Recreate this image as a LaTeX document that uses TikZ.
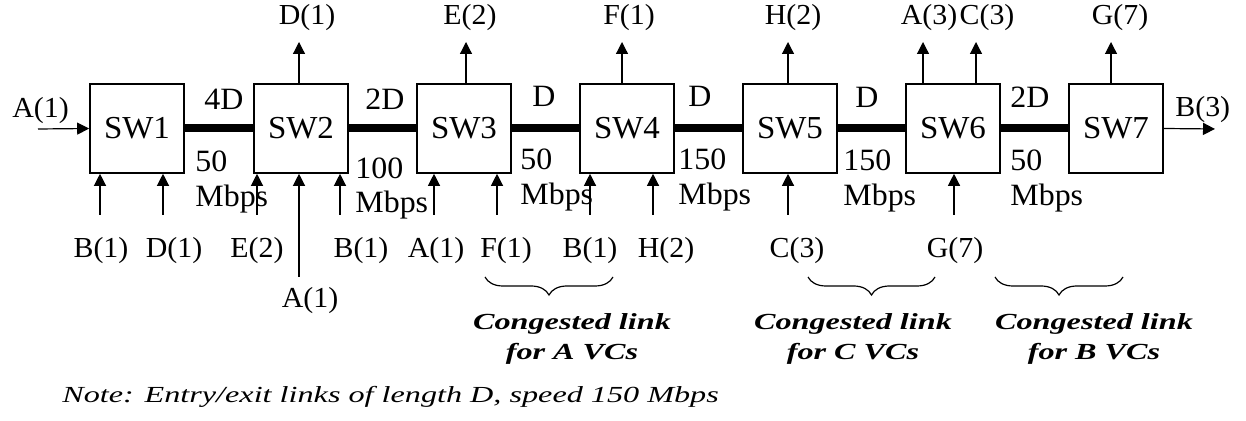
\documentclass[tikz,border=0pt]{standalone}
\usepackage{fontspec}
\setmainfont{Liberation Serif}[FakeStretch=1.03]
\newfontfamily\wideit{Liberation Serif}[FakeStretch=1.4]
\usetikzlibrary{arrows.meta,decorations.pathreplacing}
\begin{document}
\begin{tikzpicture}[x=0.5pt,y=-0.5pt,
  swbox/.style={draw, line width=0.8pt, minimum width=47pt, minimum height=44.5pt, inner sep=0pt, font=\fontsize{16}{19}\selectfont},
  lbl/.style={inner sep=0pt, anchor=base, font=\fontsize{14.5}{17}\selectfont},
  linklbl/.style={inner sep=0pt, anchor=base west, font=\fontsize{15.5}{18}\selectfont},
  flow/.style={line width=0.6pt, -{Triangle[length=6pt,width=6pt]}},
  trunk/.style={line width=4pt},
  cong/.style={inner sep=0pt, align=center, anchor=north, font=\wideit\bfseries\itshape\fontsize{11.5}{15}\selectfont},
  notestyle/.style={inner sep=0pt, anchor=base west, font=\wideit\itshape\fontsize{11.5}{14}\selectfont},
  brc/.style={decorate, decoration={brace, mirror, amplitude=9pt}, line width=0.6pt}]
\useasboundingbox (0,0) rectangle (1246,421);

% switches
\foreach \i/\x in {1/137,2/301,3/464,4/627,5/790,6/953,7/1116}
  \node[swbox] (sw\i) at (\x,128.5) {SW\i};

% trunk links
\draw[trunk] (sw1.east) -- (sw2.west);
\draw[trunk] (sw2.east) -- (sw3.west);
\draw[trunk] (sw3.east) -- (sw4.west);
\draw[trunk] (sw4.east) -- (sw5.west);
\draw[trunk] (sw5.east) -- (sw6.west);
\draw[trunk] (sw6.east) -- (sw7.west);

% link labels
\node[linklbl] (l1a) at (204,110) {4D};
\node[linklbl] (l1b) at (195,172) {50};
\node[linklbl] (l1c) at (195,207) {Mbps};
\node[linklbl] (l2a) at (365,110) {2D};
\node[linklbl] (l2b) at (355,179) {100};
\node[linklbl] (l2c) at (355,213) {Mbps};
\node[linklbl] (l3a) at (532,107) {D};
\node[linklbl] (l3b) at (520,170) {50};
\node[linklbl] (l3c) at (520,205) {Mbps};
\node[linklbl] (l4a) at (688,107) {D};
\node[linklbl] (l4b) at (678,170) {150};
\node[linklbl] (l4c) at (678,205) {Mbps};
\node[linklbl] (l5a) at (855,108) {D};
\node[linklbl] (l5b) at (843,171) {150};
\node[linklbl] (l5c) at (843,206) {Mbps};
\node[linklbl] (l6a) at (1010,108) {2D};
\node[linklbl] (l6b) at (1010,171) {50};
\node[linklbl] (l6c) at (1010,206) {Mbps};

% entry / exit on the trunk
\coordinate (ain) at (38,129);
\draw[flow] (ain) -- (sw1.west);
\node[inner sep=0pt, anchor=base west, font=\fontsize{14.5}{17}\selectfont] (la) at (12,118) {A(1)};
\coordinate (bout) at (1215,129);
\draw[flow] (sw7.east) -- (bout);
\node[inner sep=0pt, anchor=base west, font=\fontsize{14.5}{17}\selectfont] (lb) at (1175,117) {B(3)};

% exits on top
\coordinate (tD) at (299,42);
\coordinate (tE) at (466,42);
\coordinate (tF) at (622,42);
\coordinate (tH) at (788,42);
\coordinate (tA) at (923,42);
\coordinate (tC) at (976,42);
\coordinate (tG) at (1111,42);
\draw[flow] (sw2.north -| tD) -- (tD);
\draw[flow] (sw3.north -| tE) -- (tE);
\draw[flow] (sw4.north -| tF) -- (tF);
\draw[flow] (sw5.north -| tH) -- (tH);
\draw[flow] (sw6.north -| tA) -- (tA);
\draw[flow] (sw6.north -| tC) -- (tC);
\draw[flow] (sw7.north -| tG) -- (tG);
\node[lbl] (oD) at (307,25) {D(1)};
\node[lbl] (oE) at (470,25) {E(2)};
\node[lbl] (oF) at (629,25) {F(1)};
\node[lbl] (oH) at (793,25) {H(2)};
\node[lbl] (oA) at (929,25) {A(3)};
\node[lbl] (oC) at (987,25) {C(3)};
\node[lbl] (oG) at (1120,25) {G(7)};

% entries from below
\coordinate (b1a) at (100,215);
\coordinate (b1b) at (163,215);
\coordinate (b2a) at (257,215);
\coordinate (b2b) at (299,277);
\coordinate (b2c) at (340,215);
\coordinate (b3a) at (434,215);
\coordinate (b3b) at (497,215);
\coordinate (b4a) at (590,215);
\coordinate (b4b) at (653,215);
\coordinate (b5) at (788,215);
\coordinate (b6) at (954,215);
\draw[flow] (b1a) -- (b1a |- sw1.south);
\draw[flow] (b1b) -- (b1b |- sw1.south);
\draw[flow] (b2a) -- (b2a |- sw2.south);
\draw[flow] (b2b) -- (b2b |- sw2.south);
\draw[flow] (b2c) -- (b2c |- sw2.south);
\draw[flow] (b3a) -- (b3a |- sw3.south);
\draw[flow] (b3b) -- (b3b |- sw3.south);
\draw[flow] (b4a) -- (b4a |- sw4.south);
\draw[flow] (b4b) -- (b4b |- sw4.south);
\draw[flow] (b5) -- (b5 |- sw5.south);
\draw[flow] (b6) -- (b6 |- sw6.south);
\node[lbl] (i1) at (101,258) {B(1)};
\node[lbl] (i2) at (174,258) {D(1)};
\node[lbl] (i3) at (257,258) {E(2)};
\node[lbl] (i4) at (310,308) {A(1)};
\node[lbl] (i5) at (361,258) {B(1)};
\node[lbl] (i6) at (436,258) {A(1)};
\node[lbl] (i7) at (506,258) {F(1)};
\node[lbl] (i8) at (590,258) {B(1)};
\node[lbl] (i9) at (666,258) {H(2)};
\node[lbl] (i10) at (797,258) {C(3)};
\node[lbl] (i11) at (955,258) {G(7)};

% congested links
\draw[brc] (485,277) -- (613,277);
\draw[brc] (808,277) -- (935,277);
\draw[brc] (995,277) -- (1123,277);
\node[cong] (cA) at (572,313) {Congested link\\for A VCs};
\node[cong] (cC) at (853,313) {Congested link\\for C VCs};
\node[cong] (cB) at (1094,313) {Congested link\\for B VCs};

% note
\node[notestyle] (note) at (62,403) {Note: Entry/exit links of length D, speed 150 Mbps};
\end{tikzpicture}
\end{document}
